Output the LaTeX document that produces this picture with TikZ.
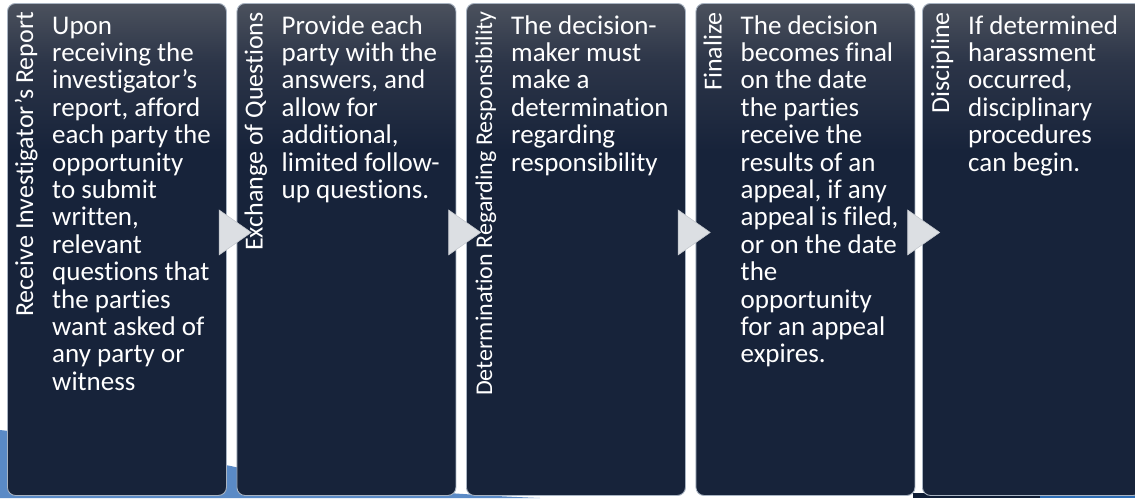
\documentclass[tikz,border=0pt]{standalone}
\usepackage{fontspec}
\setmainfont{Carlito}[Ligatures={NoCommon}]
\usetikzlibrary{shapes.geometric}

\definecolor{navy}{HTML}{17233A}
\definecolor{topgray}{HTML}{4B515D}
\definecolor{midgray}{HTML}{2C3548}
\definecolor{rim}{HTML}{A9B4C2}
\definecolor{swoosh}{HTML}{5A8AC6}
\definecolor{brightblue}{HTML}{2D6DB5}
\definecolor{darkband}{HTML}{0F1D35}
\definecolor{tri}{HTML}{DCDFE3}
\definecolor{triedge}{HTML}{C3C7CD}

% dark step panel: grey at the top fading into navy
\pgfdeclareverticalshading{panelshade}{100bp}{%
  color(0bp)=(navy); color(25bp)=(navy); color(60bp)=(navy);
  color(69bp)=(midgray); color(75bp)=(topgray); color(100bp)=(topgray)}

\tikzset{
  stepbox/.style={rectangle, rounded corners=8pt, shading=panelshade,
    draw=rim, line width=0.9pt, minimum width=219pt, minimum height=492pt,
    inner sep=0pt, anchor=north west},
  steptitle/.style={rotate=90, anchor=base east, inner sep=0pt, text=white,
    font=\fontsize{26}{30}\selectfont},
  stepbody/.style={anchor=base west, inner sep=0pt, text=white,
    font=\fontsize{27}{27.4}\selectfont},
  steparrow/.style={isosceles triangle, isosceles triangle apex angle=70,
    fill=tri, draw=triedge, line width=0.6pt, minimum height=32pt,
    minimum width=42pt, inner sep=0pt, anchor=west}
}
\newcommand{\bodytext}[1]{\parbox[t]{185pt}{\raggedright #1}}

\begin{document}
\begin{tikzpicture}[x=1pt, y=-1pt]
  \useasboundingbox (0,0) rectangle (1135,498);
  \clip (0,0) rectangle (1135,498);

  % backdrop shapes along the bottom edge
  \fill[swoosh] (0,430) .. controls (90,440) and (180,455) .. (240,468)
    .. controls (330,485) and (440,494) .. (540,498) -- (0,498) -- cycle;
  \fill[darkband] (913,493) rectangle (1135,498);
  \fill[brightblue] (1040,494) rectangle (1135,498);

  % step panels
  \node[stepbox] (b1) at (7,3) {};
  \node[stepbox] (b2) at (236.5,3) {};
  \node[stepbox] (b3) at (466,3) {};
  \node[stepbox] (b4) at (695.5,3) {};
  \node[stepbox] (b5) at (922,3) {};

  % vertical headings
  \node[steptitle] (t1) at ([xshift=26pt, yshift=-9pt]b1.north west) {Receive Investigator’s Report};
  \node[steptitle] (t2) at ([xshift=26pt, yshift=-9pt]b2.north west) {Exchange of Questions};
  \node[steptitle, font=\fontsize{24}{28}\selectfont] (t3) at ([xshift=26pt, yshift=-8pt]b3.north west) {Determination Regarding Responsibility};
  \node[steptitle] (t4) at ([xshift=26pt, yshift=-9pt]b4.north west) {Finalize};
  \node[steptitle] (t5) at ([xshift=27pt, yshift=-9pt]b5.north west) {Discipline};

  % descriptions
  \node[stepbody] (d1) at ([xshift=45pt, yshift=-31pt]b1.north west) {\bodytext{Upon\\ receiving the\\ investigator’s\\ report, afford\\ each party the\\ opportunity\\ to submit\\ written,\\ relevant\\ questions that\\ the parties\\ want asked of\\ any party or\\ witness}};
  \node[stepbody] (d2) at ([xshift=45pt, yshift=-31pt]b2.north west) {\bodytext{Provide each\\ party with the\\ answers, and\\ allow for\\ additional,\\ limited follow-\\ up questions.}};
  \node[stepbody] (d3) at ([xshift=45pt, yshift=-31pt]b3.north west) {\bodytext{The decision-\\ maker must\\ make a\\ determination\\ regarding\\ responsibility}};
  \node[stepbody] (d4) at ([xshift=45pt, yshift=-31pt]b4.north west) {\bodytext{The decision\\ becomes final\\ on the date\\ the parties\\ receive the\\ results of an\\ appeal, if any\\ appeal is filed,\\ or on the date\\ the\\ opportunity\\ for an appeal\\ expires.}};
  \node[stepbody] (d5) at ([xshift=46pt, yshift=-31pt]b5.north west) {\bodytext{If determined\\ harassment\\ occurred,\\ disciplinary\\ procedures\\ can begin.}};

  % arrows linking consecutive panels
  \node[steparrow] (a1) at ([xshift=-8pt, yshift=17pt]b1.east) {};
  \node[steparrow] (a2) at ([xshift=-8pt, yshift=17pt]b2.east) {};
  \node[steparrow] (a3) at ([xshift=-8pt, yshift=17pt]b3.east) {};
  \node[steparrow] (a4) at ([xshift=-8pt, yshift=17pt]b4.east) {};
\end{tikzpicture}
\end{document}
